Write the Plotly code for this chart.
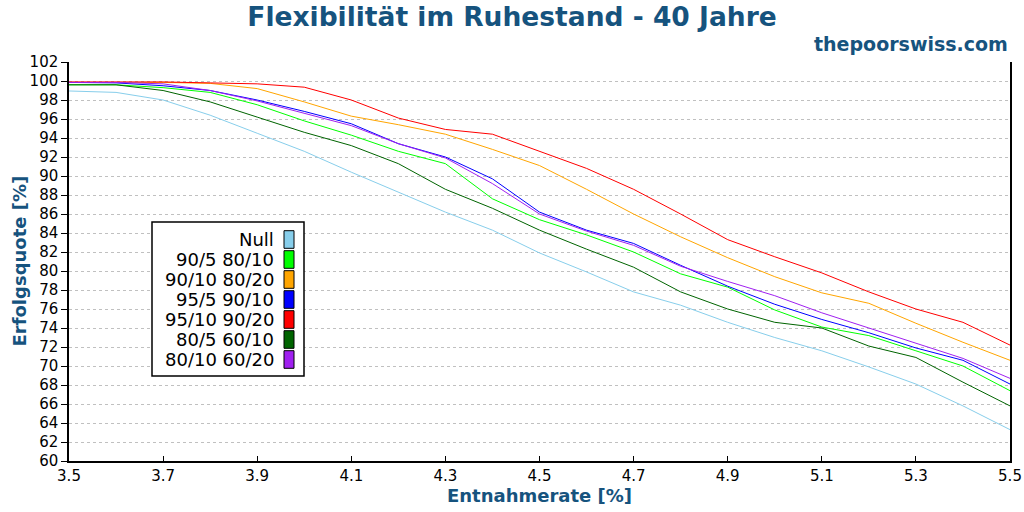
import plotly.graph_objects as go

# Entnahmerate [%]
rates = [3.5, 3.6, 3.7, 3.8, 3.9, 4.0, 4.1, 4.2, 4.3, 4.4, 4.5,
         4.6, 4.7, 4.8, 4.9, 5.0, 5.1, 5.2, 5.3, 5.4, 5.5]

# Erfolgsquote [%] per strategy
null_flex = [98.95, 98.8, 98.0, 96.4, 94.5, 92.6, 90.4, 88.3, 86.2, 84.3, 81.9,
             79.9, 77.8, 76.4, 74.6, 73.0, 71.6, 69.9, 68.1, 65.8, 63.3]
flex_90_5 = [99.6, 99.6, 99.3, 98.8, 97.5, 95.8, 94.3, 92.6, 91.3, 87.6, 85.4,
             83.8, 82.0, 79.7, 78.3, 75.9, 74.1, 73.2, 71.6, 70.0, 67.4]
flex_90_10 = [99.85, 99.85, 99.85, 99.75, 99.2, 97.8, 96.3, 95.4, 94.4, 92.8, 91.1,
              88.6, 86.0, 83.6, 81.4, 79.4, 77.7, 76.6, 74.5, 72.5, 70.6]
flex_95_5 = [99.85, 99.8, 99.5, 99.0, 98.0, 96.8, 95.5, 93.4, 92.0, 89.7, 86.2,
             84.3, 82.9, 80.6, 78.4, 76.5, 74.9, 73.5, 71.9, 70.6, 68.1]
flex_95_10 = [99.9, 99.9, 99.9, 99.8, 99.7, 99.35, 98.0, 96.1, 94.9, 94.4, 92.6,
              90.8, 88.6, 86.0, 83.3, 81.5, 79.8, 77.8, 76.0, 74.6, 72.2]
flex_80_5 = [99.6, 99.6, 99.0, 97.8, 96.2, 94.6, 93.2, 91.3, 88.6, 86.6, 84.3,
             82.3, 80.4, 77.8, 76.0, 74.6, 74.0, 72.1, 70.9, 68.3, 65.8]
flex_80_10 = [99.85, 99.85, 99.7, 99.0, 97.9, 96.6, 95.3, 93.4, 91.9, 89.2, 86.0,
              84.2, 82.7, 80.5, 78.9, 77.4, 75.6, 74.0, 72.4, 70.8, 68.7]

names = ["Null", "90/5 80/10", "90/10 80/20", "95/5 90/10",
         "95/10 90/20", "80/5 60/10", "80/10 60/20"]
series = [null_flex, flex_90_5, flex_90_10, flex_95_5,
          flex_95_10, flex_80_5, flex_80_10]
colors = ["#87ceeb", "#00ff00", "#ffa500", "#0000ff",
          "#ff0000", "#006400", "#a020f0"]

blue = "#16537e"
font = "DejaVu Sans"

fig = go.Figure()
for name, vals, col in zip(names, series, colors):
    fig.add_trace(go.Scatter(x=rates, y=vals, name=name, mode="lines",
                             line=dict(color=col, width=1)))

# legend box drawn by hand: text right-aligned, swatch on the right
W, H = 941.0, 399.0
shapes = [dict(type="rect", xref="paper", yref="paper",
               x0=(152 - 69) / W, x1=(304 - 69) / W,
               y0=(461 - 376) / H, y1=(461 - 222) / H,
               line=dict(color="black", width=1.5), fillcolor="white", layer="above")]
annotations = []
for i, (name, col) in enumerate(zip(names, colors)):
    cy = 239.5 + 20 * i
    shapes.append(dict(type="rect", xref="paper", yref="paper",
                       x0=(284 - 69) / W, x1=(294 - 69) / W,
                       y0=(461 - cy - 8.8) / H, y1=(461 - cy + 8.8) / H,
                       line=dict(color="black", width=1), fillcolor=col, layer="above"))
    annotations.append(dict(xref="paper", yref="paper", x=(276 - 69) / W,
                            y=(461 - cy) / H, text=name, showarrow=False,
                            xanchor="right", yanchor="middle",
                            font=dict(family=font, size=18, color="black")))

annotations.append(dict(xref="paper", yref="paper", x=1.0, y=(461 - 44) / H,
                        text="<b>thepoorswiss.com</b>", showarrow=False,
                        xanchor="right", yanchor="middle",
                        font=dict(family=font, size=19, color=blue)))
# y axis title as annotation so it sits where the reference has it
annotations.append(dict(xref="paper", yref="paper", x=(19 - 69) / W, y=0.5,
                        text="<b>Erfolgsquote [%]</b>", showarrow=False, textangle=-90,
                        xanchor="center", yanchor="middle",
                        font=dict(family=font, size=18, color=blue)))

fig.update_layout(
    width=1024, height=512,
    margin=dict(l=69, r=14, t=62, b=51),
    plot_bgcolor="white", paper_bgcolor="white",
    showlegend=False,
    title=dict(text="<b>Flexibilität im Ruhestand - 40 Jahre</b>",
               x=0.5, xref="container", y=0.985, yref="container", yanchor="top",
               font=dict(family=font, size=26.5, color=blue)),
    font=dict(family=font, size=15, color="black"),
    shapes=shapes, annotations=annotations,
)
fig.update_xaxes(range=[3.5, 5.5], tick0=3.5, dtick=0.2, tickformat=".1f",
                 automargin=False, showgrid=False, zeroline=False,
                 showline=True, linecolor="black", linewidth=1.5,
                 ticks="inside", ticklen=5, tickcolor="black",
                 tickfont=dict(family=font, size=15, color="black"),
                 title=dict(text="<b>Entnahmerate [%]</b>", standoff=4,
                            font=dict(family=font, size=18, color=blue)))
fig.update_yaxes(range=[60, 102], dtick=2, automargin=False,
                 showgrid=True, gridcolor="#c0c0c0", griddash="dot", gridwidth=1,
                 zeroline=False, mirror=True,
                 showline=True, linecolor="black", linewidth=1.5,
                 ticks="outside", ticklen=6, tickcolor="black",
                 tickfont=dict(family=font, size=15, color="black"))

# drop the default page margin so the figure sits at the window corner
fig.write_html("out.html", config={"displayModeBar": False},
               post_script="document.body.style.margin='0';")
